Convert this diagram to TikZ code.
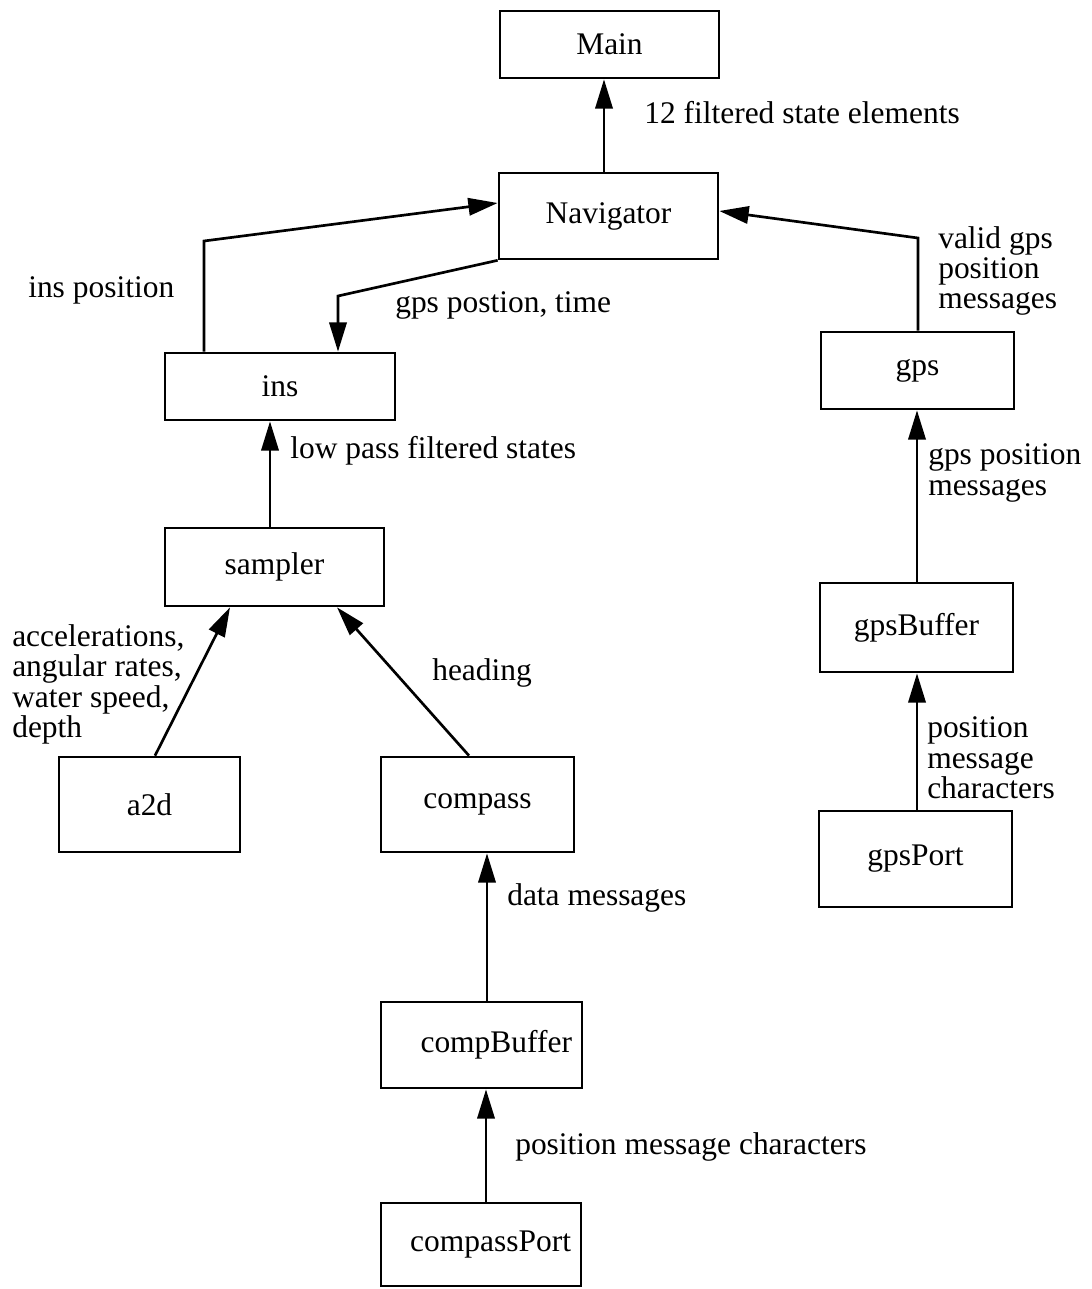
\documentclass[tikz,border=0pt]{standalone}
\usepackage{fontspec}
\setmainfont{Liberation Serif}
\usetikzlibrary{arrows.meta}
\begin{document}
\begin{tikzpicture}[x=0.75pt,y=-0.75pt,
  every node/.style={font=\fontsize{23.6}{22.8}\selectfont},
  box/.style 2 args={draw, line width=2pt, inner sep=0pt,
    minimum width=#1*0.75pt, minimum height=#2*0.75pt},
  rbox/.style 2 args={draw, line width=2pt, inner ysep=0pt, inner xsep=7.5pt,
    text width=#1*0.75pt-15pt, align=right, minimum height=#2*0.75pt},
  lbl/.style={anchor=west, inner sep=0pt, align=left},
  arr/.style={line width=2pt, line join=miter,
    -{Triangle[length=22pt,width=13pt]}}]
\useasboundingbox (0,0) rectangle (1092,1289);

% modules
\node[box={219}{67}] (Main) at (609.5,44.5) {Main};
\node[box={219}{86}] (Navigator) at (608.5,216) {Navigator};
\node[box={230}{67}] (ins) at (280,386.5) {ins};
\node[box={219}{78}] (sampler) at (274.5,567) {sampler};
\node[box={181}{95}] (a2d) at (149.5,804.5) {a2d};
\node[box={193}{95}] (compass) at (477.5,804.5) {compass};
\node[rbox={201}{86}] (compBuffer) at (481.5,1045) {compBuffer};
\node[rbox={200}{83}] (compassPort) at (481,1244.5) {compassPort};
\node[box={193}{77}] (gps) at (917.5,370.5) {gps};
\node[box={193}{89}] (gpsBuffer) at (916.5,627.5) {gpsBuffer};
\node[box={193}{96}] (gpsPort) at (915.5,859) {gpsPort};

% bend points
\coordinate (insUp) at (204,241);
\coordinate (navDown) at (338,296);
\coordinate (gpsUp) at (918,238);

% data flow
\draw[arr] (Navigator.north -| 604,0) -- (Main.south -| 604,0);
\draw[arr] (ins.north -| insUp) -- (insUp) -- (Navigator.west |- 0,203);
\draw[arr] (Navigator.south west) -- (navDown) -- (ins.north -| navDown);
\draw[arr] (sampler.north -| 270,0) -- (ins.south -| 270,0);
\draw[arr] (a2d.north -| 155,0) -- (sampler.south -| 230,0);
\draw[arr] (compass.north -| 469,0) -- (sampler.south -| 337,0);
\draw[arr] (compBuffer.north -| 487,0) -- (compass.south -| 487,0);
\draw[arr] (compassPort.north -| 486,0) -- (compBuffer.south -| 486,0);
\draw[arr] (gps.north -| gpsUp) -- (gpsUp) -- (Navigator.east |- 0,211);
\draw[arr] (gpsBuffer.north -| 917,0) -- (gps.south -| 917,0);
\draw[arr] (gpsPort.north -| 917,0) -- (gpsBuffer.south -| 917,0);

% flow labels
\node[lbl] (lMain) at (644,113) {12 filtered state elements};
\node[lbl] (lInsPos) at (28,290) {ins position};
\node[lbl] (lGpsTime) at (395,305) {gps postion, time};
\node[lbl] (lLowPass) at (290,451) {low pass filtered states};
\node[lbl] (lAccel) at (12,684.5) {accelerations,\\angular rates,\\water speed,\\depth};
\node[lbl] (lHeading) at (432,673) {heading};
\node[lbl] (lValid) at (938,271) {valid gps\\position\\messages};
\node[lbl] (lGpsPos) at (928,473) {gps position\\messages};
\node[lbl] (lPosChar) at (927,758) {position\\message\\characters};
\node[lbl] (lData) at (507,898) {data messages};
\node[lbl] (lCompChar) at (515,1147) {position message characters};
\end{tikzpicture}
\end{document}
